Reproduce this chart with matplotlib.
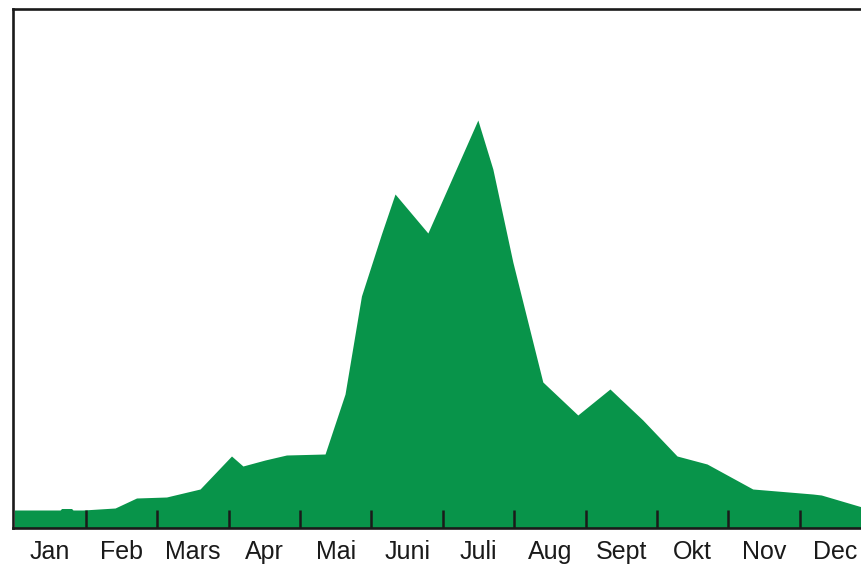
import matplotlib
matplotlib.use("Agg")
import matplotlib.pyplot as plt

months = ["Jan", "Feb", "Mars", "Apr", "Mai", "Juni", "Juli", "Aug", "Sept", "Okt", "Nov", "Dec"]

# position in months (0 = start of Jan) and relative height
x_pos = [0.0, 0.64, 0.66, 0.80, 0.82, 0.96, 1.41, 1.71, 2.13, 2.60, 3.04, 3.20, 3.51, 3.81,
         4.35, 4.63, 4.86, 5.14, 5.33, 5.79, 6.49, 6.70, 6.98, 7.40, 7.89, 8.34, 8.80,
         9.28, 9.70, 10.34, 11.18, 11.30, 11.87]
values = [18, 18, 19.5, 19.5, 18, 18, 20, 30, 31, 39, 72, 62, 68, 73,
          74, 134, 232, 294, 334, 295, 408, 359, 266, 146, 113, 139, 108,
          72, 64, 39, 34, 33, 21]

fig = plt.figure(figsize=(8.62, 5.65), dpi=100)
ax = fig.add_axes([13 / 862, 37 / 565, 849 / 862, 519 / 565])

ax.fill_between(x_pos, values, 0, color="#08944a", linewidth=0, zorder=1)

ax.set_xlim(-0.02, 11.87)
ax.set_ylim(0, 519)

ax.set_xticks(range(1, 12))
ax.set_xticklabels([])
ax.set_xticks([i + 0.5 for i in range(12)], minor=True)
ax.set_xticklabels(months, minor=True, fontsize=18, family="Liberation Sans", color="#1a1a1a")
ax.tick_params(axis="x", which="major", direction="in", length=13, width=1.8, color="#1a1a1a")
ax.tick_params(axis="x", which="minor", length=0, pad=8.5)
ax.set_yticks([])

for s in ["left", "top", "bottom"]:
    ax.spines[s].set_linewidth(1.9)
    ax.spines[s].set_color("#1a1a1a")
    ax.spines[s].set_zorder(3)
ax.spines["right"].set_visible(False)

fig.savefig("out.png", dpi=100)
